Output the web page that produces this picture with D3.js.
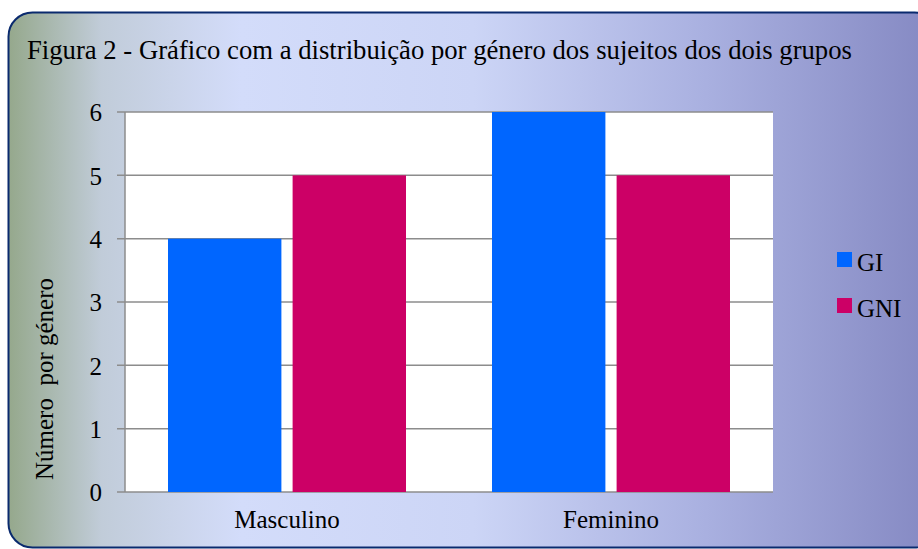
<!DOCTYPE html>
<html>
<head>
<meta charset="utf-8">
<script src="https://cdn.jsdelivr.net/npm/d3@7"></script>
<style>
    body { margin: 0; background: #fff; }
</style>
</head>
<body>
<div id="chart"></div>
<script>
var categories = ['Masculino', 'Feminino'];
var seriesNames = ['GI', 'GNI'];
var giValues = [4, 6];
var gniValues = [5, 5];
var yTicks = [0, 1, 2, 3, 4, 5, 6];
var seriesColors = ['#0066ff', '#cc0066'];

var width = 918;
var height = 549;
var serif = "'Liberation Serif', 'Times New Roman', serif";
var plot = { left: 125, right: 773, top: 112, bottom: 492 };

var svg = d3.select('#chart').append('svg')
    .attr('width', width)
    .attr('height', height);

// background gradient of the frame
var grad = svg.append('defs')
  .append('linearGradient')
    .attr('id', 'bg')
    .attr('x1', '0%').attr('y1', '0%')
    .attr('x2', '100%').attr('y2', '0%');
grad.append('stop').attr('offset', '0%').attr('stop-color', '#95a88c');
grad.append('stop').attr('offset', '10%').attr('stop-color', '#c1ccd9');
grad.append('stop').attr('offset', '25%').attr('stop-color', '#d3dcfa');
grad.append('stop').attr('offset', '50%').attr('stop-color', '#ccd5f6');
grad.append('stop').attr('offset', '75%').attr('stop-color', '#a9b0e0');
grad.append('stop').attr('offset', '100%').attr('stop-color', '#8488c2');

svg.append('rect')
    .attr('x', 8.5)
    .attr('y', 12.5)
    .attr('width', 930)
    .attr('height', 535)
    .attr('rx', 24)
    .attr('fill', 'url(#bg)')
    .attr('stroke', '#0a2a6e')
    .attr('stroke-width', 2);

svg.append('text')
    .attr('x', 27)
    .attr('y', 59)
    .style('font-family', serif)
    .style('font-size', '26.7px')
    .attr('fill', '#000')
    .text('Figura 2 - Gráfico com a distribuição por género dos sujeitos dos dois grupos');

var x0 = d3.scaleBand()
    .domain(categories)
    .range([plot.left, plot.right]);

var x1 = d3.scaleBand()
    .domain(seriesNames)
    .range([43, x0.bandwidth() - 43])
    .paddingInner(0.09);

var y = d3.scaleLinear()
    .domain([0, 6])
    .range([plot.bottom, plot.top]);

svg.append('rect')
    .attr('x', plot.left)
    .attr('y', plot.top)
    .attr('width', plot.right - plot.left)
    .attr('height', plot.bottom - plot.top)
    .attr('fill', '#fff');

// gridlines
svg.append('g')
    .selectAll('line')
    .data(yTicks)
    .enter()
    .append('line')
    .attr('x1', plot.left - 8)
    .attr('x2', plot.right)
    .attr('y1', function (d) { return y(d); })
    .attr('y2', function (d) { return y(d); })
    .attr('stroke', '#8c8c8c')
    .attr('stroke-width', 1.5);

svg.append('line')
    .attr('x1', plot.left).attr('x2', plot.left)
    .attr('y1', plot.top).attr('y2', plot.bottom)
    .attr('stroke', '#8c8c8c')
    .attr('stroke-width', 1.5);

var yAxis = svg.append('g')
    .attr('transform', 'translate(' + (plot.left - 20) + ',0)')
    .call(d3.axisLeft(y).tickValues(yTicks).tickSize(0).tickFormat(d3.format('d')));
yAxis.select('.domain').remove();
yAxis.selectAll('text')
    .attr('dy', '0.35em')
    .style('font-family', serif)
    .style('font-size', '25px')
    .attr('fill', '#000');

// bars
var rows = categories.map(function (c, i) {
    return { category: c, values: [giValues[i], gniValues[i]] };
});

svg.append('g')
    .selectAll('g')
    .data(rows)
    .enter()
    .append('g')
    .attr('transform', function (d) { return 'translate(' + x0(d.category) + ',0)'; })
    .selectAll('rect')
    .data(function (d) {
        return d.values.map(function (v, i) { return { name: seriesNames[i], value: v, color: seriesColors[i] }; });
    })
    .enter()
    .append('rect')
    .attr('x', function (d) { return x1(d.name); })
    .attr('width', x1.bandwidth())
    .attr('y', function (d) { return y(d.value); })
    .attr('height', function (d) { return y(0) - y(d.value); })
    .attr('fill', function (d) { return d.color; });

var xAxis = svg.append('g')
    .attr('transform', 'translate(0,' + plot.bottom + ')')
    .call(d3.axisBottom(x0).tickSize(0).tickPadding(18));
xAxis.select('.domain').remove();
xAxis.selectAll('text')
    .style('font-family', serif)
    .style('font-size', '25px')
    .attr('fill', '#000');

svg.append('text')
    .attr('transform', 'translate(53,379) rotate(-90)')
    .attr('text-anchor', 'middle')
    .style('font-family', serif)
    .style('font-size', '25px')
    .attr('fill', '#000')
    .text('Número\u00a0 por género');

// legend
var legend = svg.append('g')
    .selectAll('g')
    .data(seriesNames)
    .enter()
    .append('g')
    .attr('transform', function (d, i) { return 'translate(837,' + (252 + i * 46) + ')'; });

legend.append('rect')
    .attr('width', 15)
    .attr('height', 15)
    .attr('fill', function (d, i) { return seriesColors[i]; });

legend.append('text')
    .attr('x', 20)
    .attr('y', 18.5)
    .style('font-family', serif)
    .style('font-size', '25px')
    .attr('fill', '#000')
    .text(function (d) { return d; });
</script>
</body>
</html>
